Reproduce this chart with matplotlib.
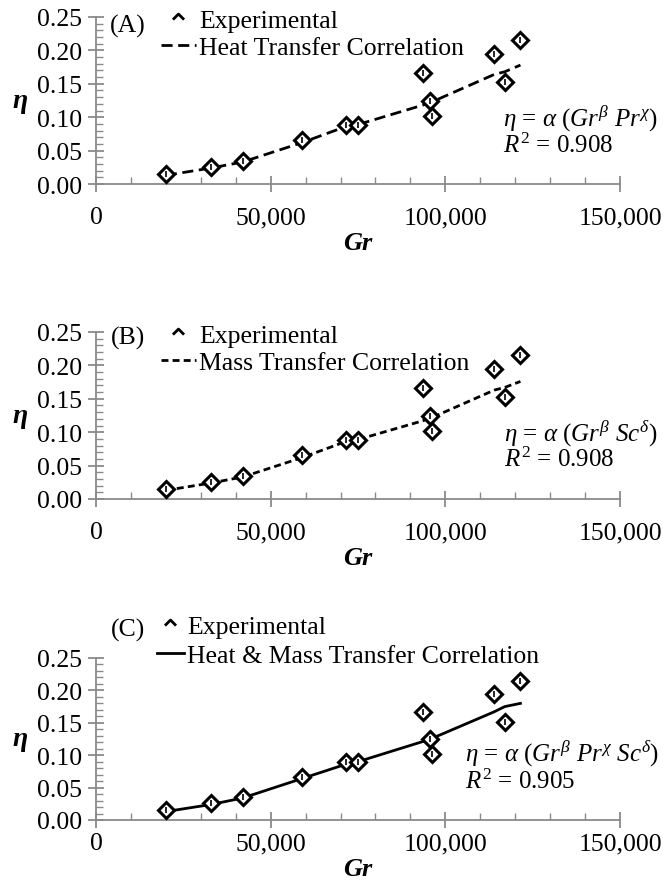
#!/usr/bin/env python3
"""Effectiveness (eta) vs Grashof number, three correlation panels."""

import matplotlib
matplotlib.use("Agg")
import matplotlib.pyplot as plt
from matplotlib.lines import Line2D
from matplotlib.ticker import MultipleLocator, FuncFormatter

plt.rcParams['font.family'] = ['Liberation Serif', 'DejaVu Serif']
plt.rcParams['mathtext.fontset'] = 'custom'
plt.rcParams['mathtext.rm'] = 'Liberation Serif'
plt.rcParams['mathtext.it'] = 'Liberation Serif:italic'
plt.rcParams['mathtext.bf'] = 'Liberation Serif:bold'

# experimental points (Gr, eta)
gr = [20000, 33000, 42000, 59000, 71500, 75000, 93500, 95700, 96200, 114000, 117000, 121500]
eta_exp = [0.015, 0.026, 0.035, 0.066, 0.089, 0.089, 0.166, 0.125, 0.102, 0.195, 0.152, 0.215]

# correlation curves evaluated at the same Gr
eta_heat = [0.013, 0.024, 0.033, 0.062, 0.086, 0.089, 0.118, 0.122, 0.123, 0.164, 0.168, 0.178]
eta_mass = [0.013, 0.024, 0.033, 0.062, 0.086, 0.089, 0.117, 0.121, 0.122, 0.163, 0.167, 0.176]
eta_both = [0.013, 0.024, 0.034, 0.064, 0.086, 0.090, 0.121, 0.125, 0.126, 0.167, 0.175, 0.180]

panel_names = ['(A)', '(B)', '(C)']
curve_labels = ['Heat Transfer Correlation', 'Mass Transfer Correlation',
                'Heat & Mass Transfer Correlation']
formulas = [r'$\eta$ = $\alpha$ ($Gr^{\beta}$ $Pr^{\chi}$)',
            r'$\eta$ = $\alpha$ ($Gr^{\beta}$ $Sc^{\delta}$)',
            r'$\eta$ = $\alpha$ ($Gr^{\beta}$ $Pr^{\chi}$ $Sc^{\delta}$)']
r2_texts = [r'$R^2$ = 0.908', r'$R^2$ = 0.908', r'$R^2$ = 0.905']

W, H = 663, 887
AXIS_GREY = '#8a8a8a'
# open chevron used as the legend glyph for the experimental points
CHEVRON = [(-1.0, -0.2), (0.0, 0.8), (1.0, -0.2)]


def fx(px):
    return px / W


def fy(py):
    return 1 - py / H


def setup_axes(ax, xpad, xlabelpad):
    ax.set_xlim(0, 150000)
    ax.set_ylim(0, 0.25)
    for side in ('top', 'right'):
        ax.spines[side].set_visible(False)
    for side in ('left', 'bottom'):
        ax.spines[side].set_color(AXIS_GREY)
        ax.spines[side].set_linewidth(1.3)
    ax.xaxis.set_major_locator(MultipleLocator(50000))
    ax.xaxis.set_minor_locator(MultipleLocator(10000))
    ax.yaxis.set_major_locator(MultipleLocator(0.05))
    ax.yaxis.set_minor_locator(MultipleLocator(0.01))
    ax.xaxis.set_major_formatter(FuncFormatter(lambda v, p: '{:,.0f}'.format(v)))
    ax.yaxis.set_major_formatter(FuncFormatter(lambda v, p: '{:.2f}'.format(v)))
    ax.tick_params(which='major', direction='inout', length=12, width=1.3,
                   color=AXIS_GREY, labelsize=18.5, pad=4)
    ax.tick_params(which='minor', direction='in', length=5, width=1.0, color=AXIS_GREY)
    ax.tick_params(axis='x', which='major', pad=xpad)
    ax.set_xlabel('Gr', fontsize=19, fontweight='bold', style='italic', labelpad=xlabelpad)
    ax.set_ylabel('η', fontsize=20, fontweight='bold', style='italic',
                  rotation=0, labelpad=12, va='center')


def draw_points(ax):
    ax.plot(gr, eta_exp, linestyle='none', marker='D', markersize=8,
            markerfacecolor='white', markeredgecolor='black', markeredgewidth=2.2, zorder=3)
    ax.plot(gr, eta_exp, linestyle='none', marker='|', markersize=4,
            markeredgecolor='black', markeredgewidth=1.2, zorder=4)


# pixel layout per panel:
# axes top, axes bottom, legend top, legend left, handle length, row spacing,
# panel label y, formula y, r2 y, formula x, x tick pad, x label pad
layout = [
    (18, 185, 10, 161, 1.36, 0.15, 26, 118, 146, 503, 10, 2),
    (333, 500, 325, 161, 1.36, 0.15, 338, 433, 460, 504, 10, 2),
    (659, 821, 616, 157, 1.05, 0.23, 630, 753, 782, 465, 3, 2),
]
curves = [eta_heat, eta_mass, eta_both]
styles = [(0, (4, 2)), (0, (2.5, 1.5)), '-']

fig = plt.figure(figsize=(W / 100, H / 100), dpi=100)

for i in range(3):
    top, bottom, leg_top, leg_x, hlen, lspace, lab_y, f_y, r_y, tx, xpad, xlp = layout[i]
    ax = fig.add_axes([fx(96), fy(bottom), fx(620) - fx(96), fy(top) - fy(bottom)])
    setup_axes(ax, xpad, xlp)
    ax.plot(gr, curves[i], color='black', linewidth=2.0, linestyle=styles[i], zorder=2)
    draw_points(ax)

    handles = [
        Line2D([], [], linestyle='none', marker=CHEVRON, markersize=8,
               markerfacecolor='none', markeredgecolor='black', markeredgewidth=2.0),
        Line2D([], [], color='black', linewidth=2.0, linestyle=styles[i]),
    ]
    fig.legend(handles, ['Experimental', curve_labels[i]], loc='upper left',
               bbox_to_anchor=(fx(leg_x), fy(leg_top)), frameon=False, fontsize=18.5,
               handlelength=hlen, handletextpad=0.12, labelspacing=lspace, borderpad=0,
               borderaxespad=0)

    fig.text(fx(128), fy(lab_y), panel_names[i], fontsize=18.5, ha='center', va='center')
    fig.text(fx(tx), fy(f_y), formulas[i], fontsize=18, ha='left', va='center')
    fig.text(fx(tx), fy(r_y), r2_texts[i], fontsize=18, ha='left', va='center')

fig.savefig('out.png', dpi=100)
plt.close(fig)
